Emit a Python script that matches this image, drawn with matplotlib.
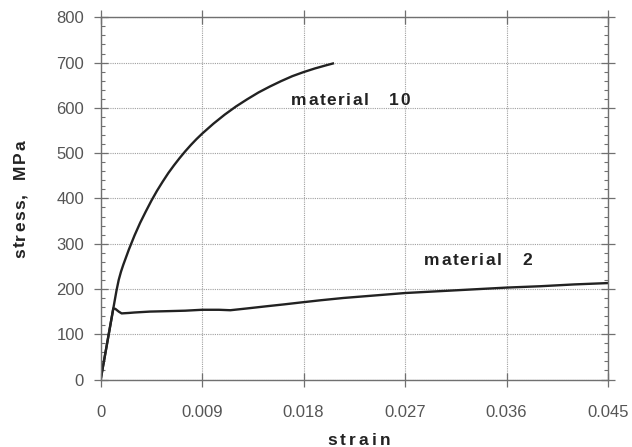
import matplotlib
matplotlib.use("Agg")
import matplotlib.pyplot as plt
from matplotlib.font_manager import FontProperties, findfont, get_font
from matplotlib.ticker import FixedLocator, MultipleLocator

# Stress-strain data (strain, stress in MPa)
strain_m10 = [0.0, 0.0005, 0.0010, 0.0012, 0.0014, 0.0016, 0.0018, 0.0020, 0.0025,
              0.0030, 0.0035, 0.0040, 0.0045, 0.0050, 0.0055, 0.0060, 0.0065,
              0.0070, 0.0075, 0.0080, 0.0085, 0.0090, 0.0095, 0.0100, 0.0110,
              0.0120, 0.0130, 0.0140, 0.0150, 0.0160, 0.0170, 0.0180, 0.0190,
              0.0200, 0.0206]
stress_m10 = [0, 70, 140, 168, 196, 220, 238, 253, 287,
              318, 346, 371, 395, 417, 437, 456, 473,
              489, 504, 518, 531, 543, 554, 565, 585,
              603, 619, 634, 647, 659, 670, 679, 687,
              694, 698]

strain_m2 = [0.0, 0.0005, 0.0009, 0.00112, 0.0013, 0.0016, 0.00186, 0.0025, 0.0030,
             0.00437, 0.0060, 0.0075, 0.0090, 0.0105, 0.0115, 0.0130, 0.0148,
             0.0163, 0.0177, 0.0195, 0.0215, 0.0240, 0.0270, 0.0300, 0.0330,
             0.0360, 0.0390, 0.0420, 0.0450]
stress_m2 = [0, 70, 126, 157, 156, 150, 146, 147, 148,
             150, 151, 152, 154, 154, 153, 157, 162,
             166, 170, 175, 180, 185, 191, 195, 199,
             203, 206, 210, 213]

x_ticks = [0, 0.009, 0.018, 0.027, 0.036, 0.045]
x_tick_labels = ["0", "0.009", "0.018", "0.027", "0.036", "0.045"]
y_ticks = [0, 100, 200, 300, 400, 500, 600, 700, 800]
y_tick_labels = [str(v) for v in y_ticks]

INK = "#222222"
FRAME = "#707070"
TICK_TEXT = "#555555"


def spaced_text(ax, x, y, s, size, tracking, coords, rotation=0):
    """Draw bold text with extra letter spacing (tracking in points)."""
    prop = FontProperties(family="Liberation Sans", weight="bold", size=size)
    font = get_font(findfont(prop))
    font.set_size(size, 72)
    advances = [font.load_char(ord(c)).linearHoriAdvance / 65536 for c in s]
    pos = 0.0
    for c, adv in zip(s, advances):
        off = (pos, 0) if rotation == 0 else (0, pos)
        ax.annotate(c, xy=(x, y), xycoords=coords, xytext=off,
                    textcoords="offset points", ha="left", va="baseline",
                    rotation=rotation, rotation_mode="anchor",
                    fontproperties=prop, color=INK, annotation_clip=False)
        pos += adv + tracking


fig = plt.figure(figsize=(6.32, 4.47), dpi=100)
ax = fig.add_axes([0.1593, 0.151, 0.962 - 0.1593, 0.9613 - 0.151])

ax.plot(strain_m10, stress_m10, color=INK, lw=1.7, solid_joinstyle="round")
ax.plot(strain_m2, stress_m2, color=INK, lw=1.7, solid_joinstyle="round")

ax.set_xlim(0, 0.045)
ax.set_ylim(0, 800)

ax.xaxis.set_major_locator(FixedLocator(x_ticks))
ax.set_xticklabels(x_tick_labels)
ax.yaxis.set_major_locator(FixedLocator(y_ticks))
ax.set_yticklabels(y_tick_labels)
ax.yaxis.set_minor_locator(MultipleLocator(20))

for sp in ax.spines.values():
    sp.set_color(FRAME)
    sp.set_linewidth(1.0)

ax.grid(True, which="major", linestyle=(0, (1, 1)), color="#a0a0a0", linewidth=0.8)
ax.set_axisbelow(True)

tick_font = FontProperties(family="Liberation Sans", size=12)
ax.tick_params(which="major", direction="inout", length=10, width=0.9, color=FRAME,
               top=True, right=True, labeltop=False, labelright=False)
ax.tick_params(axis="x", which="major", pad=13.5)
ax.tick_params(axis="y", which="major", pad=7)
ax.tick_params(axis="y", which="minor", direction="in", length=3, width=0.8,
               color=FRAME, left=True, right=True)
for lab in ax.get_xticklabels() + ax.get_yticklabels():
    lab.set_fontproperties(tick_font)
    lab.set_color(TICK_TEXT)

# Curve labels
spaced_text(ax, 0.0169, 606, "material   10", 12.5, 1.1, "data")
spaced_text(ax, 0.0287, 253, "material   2", 12.5, 1.1, "data")

# Axis titles
spaced_text(ax, 327 / 632, (447 - 445) / 447, "strain", 12.5, 2.3, "figure fraction")
spaced_text(ax, 25 / 632, (447 - 258) / 447, "stress,  MPa", 12.5, 1.1,
            "figure fraction", rotation=90)

fig.savefig("out.png", dpi=100)
